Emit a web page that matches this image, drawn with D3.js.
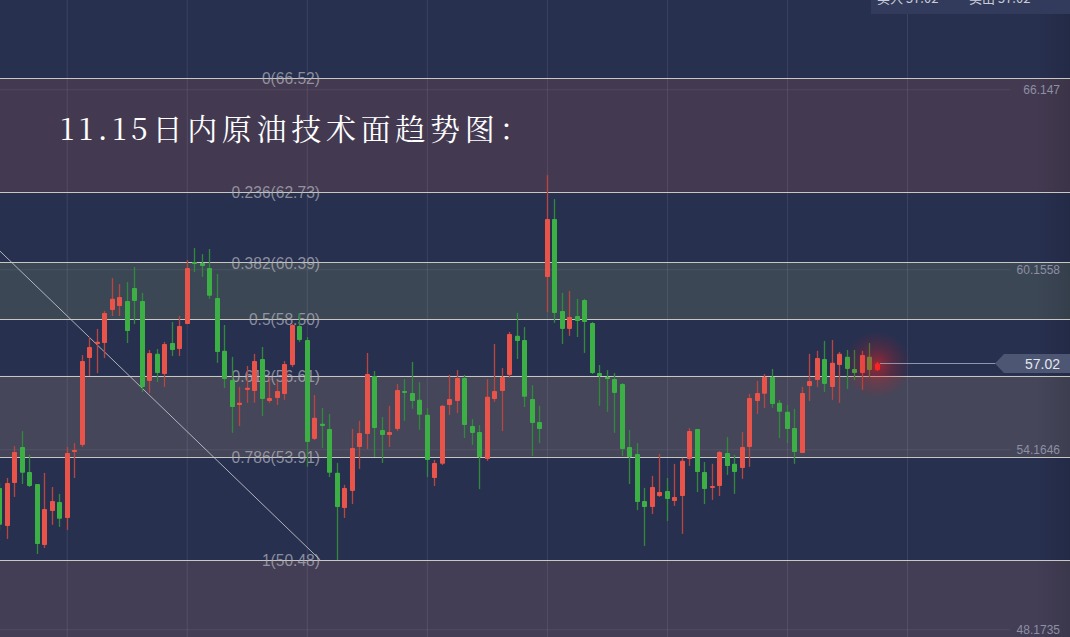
<!DOCTYPE html>
<html><head><meta charset="utf-8">
<script src="https://cdn.jsdelivr.net/npm/d3@7/dist/d3.min.js"></script>
<style>html,body{margin:0;padding:0;background:#283050;overflow:hidden}svg{display:block}</style>
</head><body><svg id="c" width="1070" height="637"></svg>
<script>
// ---- data ----
const opens = [52.88,51.61,53.04,54.24,53.41,53.01,50.98,52.11,52.41,51.88,54.07,54.31,57.20,57.67,57.70,58.80,58.93,59.10,59.53,59.10,
56.44,57.34,56.67,57.70,57.50,58.33,60.40,60.36,60.20,59.20,57.44,56.47,55.64,56.14,56.10,57.17,55.77,55.87,56.00,56.97,
58.27,57.80,54.51,55.01,54.84,53.38,52.21,52.78,54.24,54.67,56.60,54.81,54.64,54.84,56.10,56.04,55.81,55.31,53.21,53.68,
55.64,55.77,56.54,54.94,54.74,53.84,55.84,56.10,56.64,57.94,57.80,55.84,55.07,59.90,61.83,58.77,58.17,58.60,59.13,58.37,
56.70,56.57,56.50,56.34,54.24,54.01,52.44,52.24,52.61,52.78,52.44,52.61,53.84,54.84,53.41,52.88,52.94,54.04,53.68,53.54,
54.24,55.77,56.01,56.57,55.71,55.41,54.87,54.04,56.27,56.47,57.17,56.24,56.97,57.24,56.84,56.70,57.24,56.80];
const highs = [53.04,53.21,54.27,54.77,53.98,53.01,53.38,52.91,52.68,54.24,54.37,57.30,57.90,58.17,58.77,59.86,59.66,59.73,60.23,59.37,
57.47,57.50,57.74,58.40,58.60,60.46,60.86,60.66,60.83,60.00,58.30,57.24,56.24,56.94,57.34,57.57,56.57,56.44,57.10,58.33,
58.70,57.90,55.97,55.54,55.34,53.71,52.98,54.84,55.11,57.37,56.77,55.24,55.61,56.34,56.50,57.07,56.40,55.54,53.81,55.64,
56.64,56.80,56.64,55.17,54.97,56.50,57.67,56.87,58.07,58.70,58.23,56.30,55.61,63.29,62.49,59.37,59.43,59.17,59.17,58.40,
56.97,56.80,56.70,56.37,54.81,54.37,52.88,53.28,54.01,53.21,53.68,53.88,54.87,54.84,53.74,53.68,54.11,54.57,53.98,54.74,
56.01,56.44,56.67,56.84,55.81,55.64,55.51,56.24,57.34,57.44,57.77,57.80,57.40,57.47,57.47,57.44,57.70,57.07];
const lows = [51.48,51.18,52.58,53.01,52.91,50.68,50.88,51.65,51.58,51.48,53.21,54.24,56.60,56.70,57.20,58.60,58.60,57.70,58.33,56.07,
56.04,56.40,56.24,57.27,57.27,58.33,60.06,59.90,59.17,57.04,56.20,54.71,54.94,55.71,55.71,55.27,55.71,55.64,55.81,56.90,
57.74,53.58,54.47,54.21,53.24,50.48,51.88,52.34,53.51,54.17,53.91,53.71,54.24,54.77,55.11,55.51,54.81,53.24,52.94,53.64,
55.31,55.37,54.54,54.31,52.84,53.78,55.74,54.77,56.54,57.17,55.57,53.94,54.37,58.73,58.37,57.67,57.94,57.90,57.37,56.67,
55.61,55.41,54.71,53.94,53.01,52.14,50.95,52.01,52.58,51.78,52.28,51.35,53.61,52.74,52.34,52.48,52.61,53.31,52.68,53.18,
53.58,55.34,55.54,55.54,54.54,54.37,53.68,54.04,55.77,56.24,56.07,55.81,55.71,56.17,56.47,56.14,56.57,56.77];
const closes = [51.65,53.04,54.07,53.38,52.94,51.01,52.18,52.44,51.85,54.04,54.14,57.10,57.57,57.74,58.70,59.17,59.23,58.10,59.10,56.24,
57.37,56.70,57.67,57.47,58.27,60.20,60.33,60.26,59.27,57.40,56.50,55.57,55.71,56.21,57.10,55.84,55.87,56.10,57.00,58.30,
57.80,54.41,55.21,54.94,53.38,52.24,52.88,54.21,54.71,56.67,54.87,54.64,54.74,56.14,56.04,55.77,55.31,53.81,53.71,55.61,
55.84,56.54,54.97,54.71,53.91,55.91,56.10,56.57,58.00,57.77,55.91,55.04,54.84,61.83,58.70,58.17,58.57,58.43,58.40,56.70,
56.60,56.50,56.04,54.17,53.91,52.41,52.24,52.91,52.74,52.51,52.58,53.78,54.77,53.41,52.84,52.94,54.07,53.61,53.41,54.24,
55.87,56.04,56.57,55.67,55.41,54.84,54.07,56.04,56.44,57.20,56.34,57.04,57.34,56.84,56.70,57.30,56.80,57.02];

const fibRatios = [0, 0.236, 0.382, 0.5, 0.618, 0.786, 1];
const fibPrices = [66.52, 62.73, 60.39, 58.50, 56.61, 53.91, 50.48];
const axisTicks = [66.147, 60.1558, 54.1646, 48.1735];
const axisLabels = ["66.147", "60.1558", "54.1646", "48.1735"];
const lastPrice = 57.02;
const gridBars = [9, 25, 41, 57, 73, 89, 105, 121];
const trendLine = [[0.1, 60.76], [42.8, 50.48]];
const titleText = "11.15日内原油技术面趋势图：";
const quoteTexts = ["买入 57.02", "卖出 57.02"];

// ---- drawing ----
const W = 1070, H = 637;
const svg = d3.select("#c");
const x = d3.scaleLinear().domain([0, opens.length - 1]).range([-0.8, 877]);
const y = d3.scaleLinear().domain([50.48, 66.52]).range([560, 78]);

const defs = svg.append("defs");
const rg = defs.append("radialGradient").attr("id", "glow");
rg.append("stop").attr("offset", "0%").attr("stop-color", "#ff2020").attr("stop-opacity", 0.55);
rg.append("stop").attr("offset", "45%").attr("stop-color", "#e02020").attr("stop-opacity", 0.25);
rg.append("stop").attr("offset", "100%").attr("stop-color", "#c01818").attr("stop-opacity", 0);
const eg = defs.append("linearGradient").attr("id", "edge").attr("x1", 0).attr("x2", 1);
eg.append("stop").attr("offset", "0%").attr("stop-color", "#000").attr("stop-opacity", 0);
eg.append("stop").attr("offset", "100%").attr("stop-color", "#000").attr("stop-opacity", 0.12);

svg.append("rect").attr("width", W).attr("height", H).attr("fill", "#283050");

// bands between fib levels
const bands = [
  {a: 0, b: 1, c: "#433a51"},
  {a: 2, b: 3, c: "#3c4756"},
  {a: 4, b: 5, c: "#45465a"},
  {a: 6, b: null, c: "#433e56"}
];
svg.append("g").selectAll("rect").data(bands).join("rect")
  .attr("x", 0).attr("width", W)
  .attr("y", d => y(fibPrices[d.a]))
  .attr("height", d => (d.b === null ? H : y(fibPrices[d.b])) - y(fibPrices[d.a]))
  .attr("fill", d => d.c);

// horizontal grid
const hg = svg.append("g").call(d3.axisRight(y).tickValues(axisTicks).tickSize(1010).tickFormat(""));
hg.select(".domain").remove();
hg.selectAll("line").attr("stroke", "#ffffff").attr("stroke-opacity", 0.07);

// vertical grid
const vg = svg.append("g").call(d3.axisBottom(x).tickValues(gridBars).tickSize(H).tickFormat(""));
vg.select(".domain").remove();
vg.selectAll("line").attr("stroke", "#ffffff").attr("stroke-opacity", 0.09);

// right edge shade
svg.append("rect").attr("x", 1035).attr("y", 0).attr("width", 35).attr("height", H).attr("fill", "url(#edge)");

// fib lines
svg.append("g").selectAll("line").data(fibPrices).join("line")
  .attr("x1", 0).attr("x2", W)
  .attr("y1", d => Math.round(y(d)) + 0.5).attr("y2", d => Math.round(y(d)) + 0.5)
  .attr("stroke", "#c9c8c0").attr("stroke-width", 1);

// fib labels
svg.append("g").selectAll("text").data(fibPrices).join("text")
  .attr("x", 320).attr("y", d => y(d) + 1).attr("dy", "0.35em")
  .attr("text-anchor", "end")
  .attr("font-family", "'Liberation Sans', Arial, sans-serif").attr("font-size", 15.6)
  .attr("fill", "#b4b4bc").attr("fill-opacity", 0.72)
  .text((d, i) => `${fibRatios[i]}(${d.toFixed(2)})`);

// trend line
svg.append("line")
  .attr("x1", x(trendLine[0][0])).attr("y1", y(trendLine[0][1]))
  .attr("x2", x(trendLine[1][0])).attr("y2", y(trendLine[1][1]))
  .attr("stroke", "#c8c8cc").attr("stroke-width", 1).attr("stroke-opacity", 0.85);

// candles
const idx = d3.range(opens.length);
const up = i => closes[i] >= opens[i];
const cg = svg.append("g");
cg.selectAll("line").data(idx).join("line")
  .attr("x1", i => Math.round(x(i)) + 0.5).attr("x2", i => Math.round(x(i)) + 0.5)
  .attr("y1", i => y(highs[i])).attr("y2", i => y(lows[i]))
  .attr("stroke", i => up(i) ? "#b8463f" : "#2f8a3a").attr("stroke-width", 1.3);
cg.selectAll("rect").data(idx).join("rect")
  .attr("x", i => Math.round(x(i)) - 2)
  .attr("width", 5)
  .attr("y", i => y(Math.max(opens[i], closes[i])))
  .attr("height", i => Math.max(1.5, Math.abs(y(opens[i]) - y(closes[i]))))
  .attr("rx", 0.8)
  .attr("fill", (i) => i === opens.length - 1 ? "#ff2424" : (up(i) ? "#e8544a" : "#3cb044"));

// glow on last candle
const li = opens.length - 1;
svg.append("circle").attr("cx", x(li)).attr("cy", y(closes[li]) + 2).attr("r", 34).attr("fill", "url(#glow)");

// price line and label
const py = Math.round(y(lastPrice)) + 0.5;
svg.append("line").attr("x1", x(li) + 3).attr("x2", 996).attr("y1", py).attr("y2", py)
  .attr("stroke", "#8e95ad").attr("stroke-width", 1);
svg.append("path")
  .attr("d", `M995,${py} L1004,${py - 9.5} L1070,${py - 9.5} L1070,${py + 9.5} L1004,${py + 9.5} Z`)
  .attr("fill", "#4d5774");
svg.append("text").attr("x", 1060).attr("y", py).attr("dy", "0.36em").attr("text-anchor", "end")
  .attr("font-family", "'Liberation Sans', Arial, sans-serif").attr("font-size", 14)
  .attr("fill", "#e4e6ee").text(lastPrice.toFixed(2));

// right axis labels
const ra = svg.append("g").attr("transform", "translate(1060,0)")
  .call(d3.axisLeft(y).tickValues(axisTicks).tickSize(0).tickPadding(0).tickFormat((d, i) => axisLabels[i]));
ra.select(".domain").remove();
ra.selectAll("text").attr("font-family", "'Liberation Sans', Arial, sans-serif").attr("font-size", 12)
  .attr("fill", "#8d8fa3");

// title
svg.append("text").attr("x", 60).attr("y", 140)
  .attr("font-family", "'Noto Serif CJK SC', 'Noto Sans CJK SC', serif")
  .attr("font-size", 30).attr("letter-spacing", 4.7)
  .attr("fill", "#ffffff").text(titleText);

// top-right quote box (cut off by the top edge, as in the reference)
svg.append("rect").attr("x", 871).attr("y", 0).attr("width", 199).attr("height", 14).attr("fill", "#323b5b");
svg.append("g").selectAll("text").data(quoteTexts).join("text")
  .attr("x", (d, i) => 877 + i * 92).attr("y", 3)
  .attr("font-family", "'Noto Sans CJK SC', sans-serif").attr("font-size", 13)
  .attr("fill", "#c9cbd8").text(d => d);
</script></body></html>
